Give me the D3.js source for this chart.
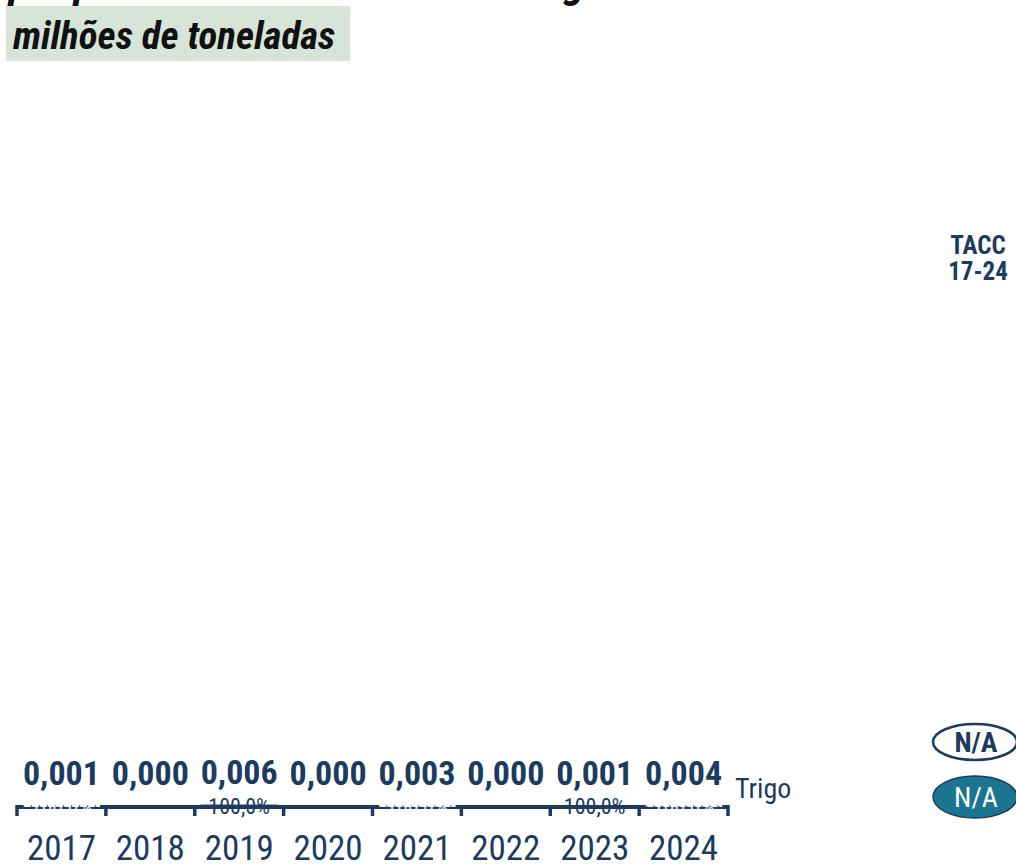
<!DOCTYPE html>
<html>
<head>
<meta charset="utf-8">
<script src="https://cdn.jsdelivr.net/npm/d3@7"></script>
<style>
  html, body { margin: 0; padding: 0; background: #fff; }
  svg { display: block; font-family: "Roboto", sans-serif; font-stretch: condensed; }
</style>
</head>
<body>
<svg id="chart" width="1016" height="864"></svg>
<script>
// ---- data ----
const years = ["2017", "2018", "2019", "2020", "2021", "2022", "2023", "2024"];
const totals = [0.001, 0.000, 0.006, 0.000, 0.003, 0.000, 0.001, 0.004];
const legendLabels = ["N/A", "N/A"];
const shareA = [1.0, 0, 0, 0, 1.0, 0, 0, 1.0];   // filled series share
const shareB = [0, 0, 1.0, 0, 0, 0, 1.0, 0];     // outlined series share
const shareLabels = ["100,0%", "", "100,0%", "", "100,0%", "", "100,0%", "100,0%"];
const productLabel = "Trigo";
const titleText = "por porto de destino – total de trigo";
const subtitleText = "milhões de toneladas";
const taccHeader = ["TACC", "17-24"];
const yMax = 8;

const navy = "#1b3b5f";
const teal = "#1b7591";

const svg = d3.select("#chart");

// title (mostly clipped at top)
svg.append("text").attr("x", 9).attr("y", -3)
  .attr("font-size", 43).attr("font-weight", 700).attr("font-style", "italic")
  .attr("fill", "#111").text(titleText);

// subtitle box
svg.append("rect").attr("x", 6).attr("y", 6).attr("width", 344).attr("height", 55).attr("fill", "#d7e5d9");
svg.append("text").attr("x", 13).attr("y", 49)
  .attr("font-size", 39).attr("font-weight", 700).attr("font-style", "italic")
  .attr("fill", "#111").text(subtitleText);

// scales
const x = d3.scaleBand().domain(years).range([17, 728]).paddingInner(0.15).paddingOuter(0.075);
const y = d3.scaleLinear().domain([0, yMax]).range([807, 100]);

// axis: domain line + ticks at band edges
const g = svg.append("g");
const step = x.step();
const x0 = 17;
g.append("line").attr("x1", x0).attr("x2", x0 + step * years.length)
  .attr("y1", y(0)).attr("y2", y(0)).attr("stroke", navy).attr("stroke-width", 4);
d3.range(years.length + 1).forEach(i => {
  g.append("line").attr("x1", x0 + i * step).attr("x2", x0 + i * step)
    .attr("y1", y(0) - 2).attr("y2", y(0) + 9).attr("stroke", navy).attr("stroke-width", 3.5);
});

// year labels
svg.append("g").selectAll("text").data(years).join("text")
  .attr("x", d => x(d) + x.bandwidth() / 2).attr("y", 860)
  .attr("text-anchor", "middle").attr("font-size", 35).attr("fill", navy).text(d => d);

// stacked bars
const stackData = years.map((yr, i) => ({ year: yr, a: totals[i] * shareA[i], b: totals[i] * shareB[i] }));
const stack = d3.stack().keys(["a", "b"])(stackData);
const barG = svg.append("g");
stack.forEach((layer, li) => {
  barG.selectAll(null).data(layer).join("rect")
    .attr("x", d => x(d.data.year)).attr("width", x.bandwidth())
    .attr("y", d => y(d[1]) - 1).attr("height", d => Math.max(0, y(d[0]) - y(d[1])))
    .attr("fill", li === 0 ? teal : "#fff")
    .attr("stroke", li === 0 ? "#fff" : navy)
    .attr("stroke-width", 1.8)
    .attr("stroke-dasharray", li === 0 ? "5,3" : null)
    .attr("opacity", d => (d[1] - d[0]) > 0 ? 1 : 0);
});

// share labels
svg.append("g").selectAll("text").data(years.map((yr, i) => ({ yr, i })).filter(d => shareLabels[d.i] !== "")).join("text")
  .attr("x", d => x(d.yr) + x.bandwidth() / 2).attr("y", y(0) + 7)
  .attr("text-anchor", "middle").attr("font-size", 22)
  .attr("fill", d => shareA[d.i] > 0 ? "#fff" : navy)
  .attr("opacity", d => shareA[d.i] > 0 ? 0.85 : 1)
  .text(d => shareLabels[d.i]);

// value labels
svg.append("g").selectAll("text").data(years.map((yr, i) => ({ yr, v: totals[i] }))).join("text")
  .attr("x", d => x(d.yr) + x.bandwidth() / 2).attr("y", d => y(d.v) - 22)
  .attr("text-anchor", "middle").attr("font-size", 34).attr("font-weight", 700).attr("fill", navy)
  .text(d => d3.format(".3f")(d.v).replace(".", ","));

// product label
svg.append("text").attr("x", 735).attr("y", 798).attr("font-size", 28).attr("fill", navy).text(productLabel);

// TACC header
svg.append("text").attr("x", 978).attr("y", 254).attr("text-anchor", "middle")
  .attr("font-size", 25).attr("font-weight", 700).attr("fill", navy).text(taccHeader[0]);
svg.append("text").attr("x", 978).attr("y", 280).attr("text-anchor", "middle")
  .attr("font-size", 25).attr("font-weight", 700).attr("fill", navy).text(taccHeader[1]);

// TACC badges
svg.append("ellipse").attr("cx", 975).attr("cy", 742).attr("rx", 42).attr("ry", 18)
  .attr("fill", "#fff").attr("stroke", navy).attr("stroke-width", 2.5);
svg.append("text").attr("x", 976).attr("y", 752).attr("text-anchor", "middle")
  .attr("font-size", 28).attr("font-weight", 700).attr("fill", navy).text(legendLabels[0]);
svg.append("ellipse").attr("cx", 975).attr("cy", 797).attr("rx", 42).attr("ry", 21)
  .attr("fill", teal).attr("stroke", navy).attr("stroke-width", 1.5);
svg.append("text").attr("x", 976).attr("y", 807).attr("text-anchor", "middle")
  .attr("font-size", 28).attr("fill", "#fff").text(legendLabels[1]);
</script>
</body>
</html>
